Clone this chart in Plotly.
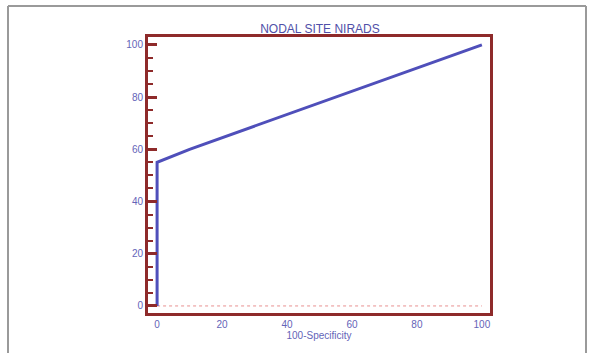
import plotly.graph_objects as go

fpr = [0, 0, 10, 100]
tpr = [0, 55, 60, 100]
ref_x = [0, 100]
ref_y = [0, 0]
ticks = [0, 20, 40, 60, 80, 100]

fig = go.Figure()
fig.add_trace(go.Scatter(x=ref_x, y=ref_y, mode="lines",
                         line=dict(color="#e89090", width=1, dash="dot"), showlegend=False))
fig.add_trace(go.Scatter(x=fpr, y=tpr, mode="lines",
                         line=dict(color="#4f4fba", width=3), showlegend=False))

axis_color = "#8e2a2a"
lab = dict(color="#6464b8", size=10, family="Liberation Sans")
fig.update_layout(
    width=590, height=353,
    margin=dict(l=148, r=100, t=37, b=40),
    paper_bgcolor="white", plot_bgcolor="white",
    title=dict(text="NODAL SITE NIRADS", x=(320) / 590, xanchor="center", y=1 - 29 / 353, yanchor="middle",
               font=dict(color="#5050a8", size=12, family="Liberation Sans")),
    xaxis=dict(range=[-2.8, 102.5], tickvals=ticks, ticks="", showgrid=False, zeroline=False,
               showline=True, linecolor=axis_color, linewidth=3, mirror=True,
               tickfont=lab, title=dict(text="100-Specificity", font=lab, standoff=3)),
    yaxis=dict(range=[-2.7, 103], tickvals=ticks, ticks="inside", ticklen=9, tickwidth=2.5,
               tickcolor=axis_color, showgrid=False, zeroline=False,
               showline=True, linecolor=axis_color, linewidth=3, mirror=True, tickfont=lab,
               minor=dict(dtick=5, ticks="inside", ticklen=5, tickwidth=1.5, tickcolor=axis_color)),
    shapes=[
        dict(type="line", xref="paper", yref="paper", x0=(8 - 148) / 342, x1=(8 - 148) / 342,
             y0=(313 - 6) / 276, y1=(313 - 360) / 276, line=dict(color="#9a9a9a", width=2)),
        dict(type="line", xref="paper", yref="paper", x0=(586 - 148) / 342, x1=(586 - 148) / 342,
             y0=(313 - 6) / 276, y1=(313 - 360) / 276, line=dict(color="#9a9a9a", width=2)),
        dict(type="line", xref="paper", yref="paper", x0=(8 - 148) / 342, x1=(586 - 148) / 342,
             y0=(313 - 6) / 276, y1=(313 - 6) / 276, line=dict(color="#9a9a9a", width=2)),
    ],
)
fig.write_html("out.html", config={"displayModeBar": False},
               post_script="document.body.style.margin='0px';")
